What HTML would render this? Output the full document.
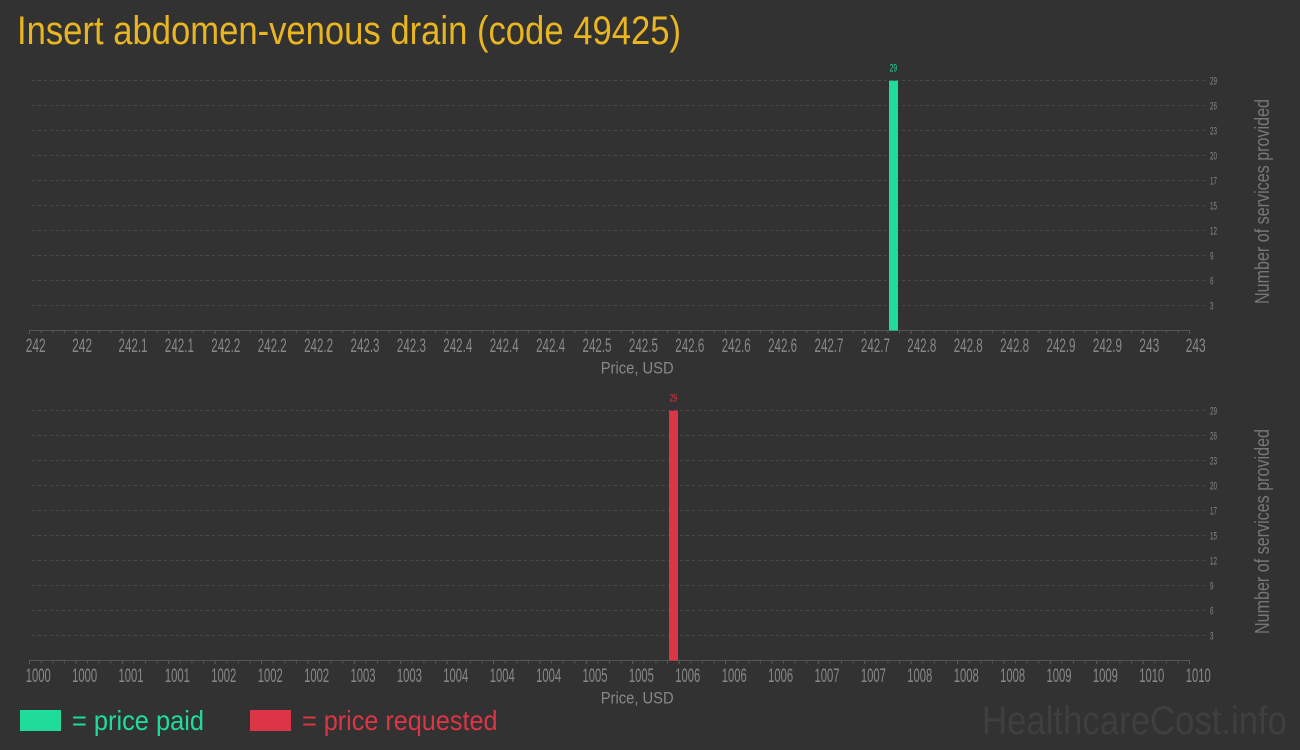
<!DOCTYPE html>
<html><head><meta charset="utf-8"><style>
html,body{margin:0;padding:0;background:#323232;}
svg{display:block;}
text{font-family:"Liberation Sans Narrow","Liberation Sans",sans-serif;}
</style></head><body>
<svg width="1300" height="750" viewBox="0 0 1300 750" xmlns="http://www.w3.org/2000/svg">
<rect width="1300" height="750" fill="#323232"/>
<text x="17" y="44" font-size="40" fill="#e9b520" textLength="664" lengthAdjust="spacingAndGlyphs">Insert abdomen-venous drain (code 49425)</text>

<g id="top">
<g stroke="#4a4a4a" stroke-width="1" stroke-dasharray="3,3">
<line x1="32" y1="80.5" x2="1206" y2="80.5"/>
<line x1="32" y1="105.5" x2="1206" y2="105.5"/>
<line x1="32" y1="130.5" x2="1206" y2="130.5"/>
<line x1="32" y1="155.5" x2="1206" y2="155.5"/>
<line x1="32" y1="180.5" x2="1206" y2="180.5"/>
<line x1="32" y1="205.5" x2="1206" y2="205.5"/>
<line x1="32" y1="230.5" x2="1206" y2="230.5"/>
<line x1="32" y1="255.5" x2="1206" y2="255.5"/>
<line x1="32" y1="280.5" x2="1206" y2="280.5"/>
<line x1="32" y1="305.5" x2="1206" y2="305.5"/>
</g>
<line x1="29" y1="330.5" x2="1190" y2="330.5" stroke="#555" stroke-width="1"/>
<line x1="29" y1="332" x2="1191" y2="332" stroke="#555" stroke-width="3" stroke-dasharray="1 10.6"/>
<line x1="29" y1="332" x2="1191" y2="332" stroke="#5a5a5a" stroke-width="4" stroke-dasharray="1 45.4"/>
<g font-size="11" fill="#888">
<text x="1210" y="84.5" textLength="7" lengthAdjust="spacingAndGlyphs">29</text>
<text x="1210" y="109.5" textLength="7" lengthAdjust="spacingAndGlyphs">26</text>
<text x="1210" y="134.5" textLength="7" lengthAdjust="spacingAndGlyphs">23</text>
<text x="1210" y="159.5" textLength="7" lengthAdjust="spacingAndGlyphs">20</text>
<text x="1210" y="184.5" textLength="7" lengthAdjust="spacingAndGlyphs">17</text>
<text x="1210" y="209.5" textLength="7" lengthAdjust="spacingAndGlyphs">15</text>
<text x="1210" y="234.5" textLength="7" lengthAdjust="spacingAndGlyphs">12</text>
<text x="1210" y="259.5" textLength="3.5" lengthAdjust="spacingAndGlyphs">9</text>
<text x="1210" y="284.5" textLength="3.5" lengthAdjust="spacingAndGlyphs">6</text>
<text x="1210" y="309.5" textLength="3.5" lengthAdjust="spacingAndGlyphs">3</text>
</g>
<text transform="translate(1269,304) rotate(-90)" font-size="20" fill="#777" textLength="205" lengthAdjust="spacingAndGlyphs">Number of services provided</text>
<g font-size="19.5" fill="#888" lengthAdjust="spacingAndGlyphs">
<text x="25.7" y="352" textLength="20" lengthAdjust="spacingAndGlyphs">242</text>
<text x="72.1" y="352" textLength="20" lengthAdjust="spacingAndGlyphs">242</text>
<text x="118.5" y="352" textLength="29" lengthAdjust="spacingAndGlyphs">242.1</text>
<text x="164.9" y="352" textLength="29" lengthAdjust="spacingAndGlyphs">242.1</text>
<text x="211.3" y="352" textLength="29" lengthAdjust="spacingAndGlyphs">242.2</text>
<text x="257.7" y="352" textLength="29" lengthAdjust="spacingAndGlyphs">242.2</text>
<text x="304.1" y="352" textLength="29" lengthAdjust="spacingAndGlyphs">242.2</text>
<text x="350.5" y="352" textLength="29" lengthAdjust="spacingAndGlyphs">242.3</text>
<text x="396.9" y="352" textLength="29" lengthAdjust="spacingAndGlyphs">242.3</text>
<text x="443.3" y="352" textLength="29" lengthAdjust="spacingAndGlyphs">242.4</text>
<text x="489.7" y="352" textLength="29" lengthAdjust="spacingAndGlyphs">242.4</text>
<text x="536.1" y="352" textLength="29" lengthAdjust="spacingAndGlyphs">242.4</text>
<text x="582.5" y="352" textLength="29" lengthAdjust="spacingAndGlyphs">242.5</text>
<text x="628.9" y="352" textLength="29" lengthAdjust="spacingAndGlyphs">242.5</text>
<text x="675.3" y="352" textLength="29" lengthAdjust="spacingAndGlyphs">242.6</text>
<text x="721.7" y="352" textLength="29" lengthAdjust="spacingAndGlyphs">242.6</text>
<text x="768.1" y="352" textLength="29" lengthAdjust="spacingAndGlyphs">242.6</text>
<text x="814.5" y="352" textLength="29" lengthAdjust="spacingAndGlyphs">242.7</text>
<text x="860.9" y="352" textLength="29" lengthAdjust="spacingAndGlyphs">242.7</text>
<text x="907.3" y="352" textLength="29" lengthAdjust="spacingAndGlyphs">242.8</text>
<text x="953.7" y="352" textLength="29" lengthAdjust="spacingAndGlyphs">242.8</text>
<text x="1000.1" y="352" textLength="29" lengthAdjust="spacingAndGlyphs">242.8</text>
<text x="1046.5" y="352" textLength="29" lengthAdjust="spacingAndGlyphs">242.9</text>
<text x="1092.9" y="352" textLength="29" lengthAdjust="spacingAndGlyphs">242.9</text>
<text x="1139.3" y="352" textLength="20" lengthAdjust="spacingAndGlyphs">243</text>
<text x="1185.7" y="352" textLength="20" lengthAdjust="spacingAndGlyphs">243</text>
</g>
<text x="600.7" y="373.5" font-size="17" fill="#888" textLength="73" lengthAdjust="spacingAndGlyphs">Price, USD</text>
<rect x="889" y="80.7" width="9" height="249.8" fill="#20dc9b"/>
<text x="889.7" y="71.7" font-size="11" fill="#20dc9b" textLength="7.3" lengthAdjust="spacingAndGlyphs">29</text>
</g>

<g id="bottom">
<g stroke="#4a4a4a" stroke-width="1" stroke-dasharray="3,3">
<line x1="32" y1="410.5" x2="1206" y2="410.5"/>
<line x1="32" y1="435.5" x2="1206" y2="435.5"/>
<line x1="32" y1="460.5" x2="1206" y2="460.5"/>
<line x1="32" y1="485.5" x2="1206" y2="485.5"/>
<line x1="32" y1="510.5" x2="1206" y2="510.5"/>
<line x1="32" y1="535.5" x2="1206" y2="535.5"/>
<line x1="32" y1="560.5" x2="1206" y2="560.5"/>
<line x1="32" y1="585.5" x2="1206" y2="585.5"/>
<line x1="32" y1="610.5" x2="1206" y2="610.5"/>
<line x1="32" y1="635.5" x2="1206" y2="635.5"/>
</g>
<line x1="29" y1="660.5" x2="1190" y2="660.5" stroke="#555" stroke-width="1"/>
<line x1="29" y1="662" x2="1191" y2="662" stroke="#555" stroke-width="3" stroke-dasharray="1 10.6"/>
<line x1="29" y1="662" x2="1191" y2="662" stroke="#5a5a5a" stroke-width="4" stroke-dasharray="1 45.4"/>
<g font-size="11" fill="#888">
<text x="1210" y="414.5" textLength="7" lengthAdjust="spacingAndGlyphs">29</text>
<text x="1210" y="439.5" textLength="7" lengthAdjust="spacingAndGlyphs">26</text>
<text x="1210" y="464.5" textLength="7" lengthAdjust="spacingAndGlyphs">23</text>
<text x="1210" y="489.5" textLength="7" lengthAdjust="spacingAndGlyphs">20</text>
<text x="1210" y="514.5" textLength="7" lengthAdjust="spacingAndGlyphs">17</text>
<text x="1210" y="539.5" textLength="7" lengthAdjust="spacingAndGlyphs">15</text>
<text x="1210" y="564.5" textLength="7" lengthAdjust="spacingAndGlyphs">12</text>
<text x="1210" y="589.5" textLength="3.5" lengthAdjust="spacingAndGlyphs">9</text>
<text x="1210" y="614.5" textLength="3.5" lengthAdjust="spacingAndGlyphs">6</text>
<text x="1210" y="639.5" textLength="3.5" lengthAdjust="spacingAndGlyphs">3</text>
</g>
<text transform="translate(1269,634) rotate(-90)" font-size="20" fill="#777" textLength="205" lengthAdjust="spacingAndGlyphs">Number of services provided</text>
<g font-size="19.5" fill="#888">
<text x="25.7" y="682" textLength="25" lengthAdjust="spacingAndGlyphs">1000</text>
<text x="72.1" y="682" textLength="25" lengthAdjust="spacingAndGlyphs">1000</text>
<text x="118.5" y="682" textLength="25" lengthAdjust="spacingAndGlyphs">1001</text>
<text x="164.9" y="682" textLength="25" lengthAdjust="spacingAndGlyphs">1001</text>
<text x="211.3" y="682" textLength="25" lengthAdjust="spacingAndGlyphs">1002</text>
<text x="257.7" y="682" textLength="25" lengthAdjust="spacingAndGlyphs">1002</text>
<text x="304.1" y="682" textLength="25" lengthAdjust="spacingAndGlyphs">1002</text>
<text x="350.5" y="682" textLength="25" lengthAdjust="spacingAndGlyphs">1003</text>
<text x="396.9" y="682" textLength="25" lengthAdjust="spacingAndGlyphs">1003</text>
<text x="443.3" y="682" textLength="25" lengthAdjust="spacingAndGlyphs">1004</text>
<text x="489.7" y="682" textLength="25" lengthAdjust="spacingAndGlyphs">1004</text>
<text x="536.1" y="682" textLength="25" lengthAdjust="spacingAndGlyphs">1004</text>
<text x="582.5" y="682" textLength="25" lengthAdjust="spacingAndGlyphs">1005</text>
<text x="628.9" y="682" textLength="25" lengthAdjust="spacingAndGlyphs">1005</text>
<text x="675.3" y="682" textLength="25" lengthAdjust="spacingAndGlyphs">1006</text>
<text x="721.7" y="682" textLength="25" lengthAdjust="spacingAndGlyphs">1006</text>
<text x="768.1" y="682" textLength="25" lengthAdjust="spacingAndGlyphs">1006</text>
<text x="814.5" y="682" textLength="25" lengthAdjust="spacingAndGlyphs">1007</text>
<text x="860.9" y="682" textLength="25" lengthAdjust="spacingAndGlyphs">1007</text>
<text x="907.3" y="682" textLength="25" lengthAdjust="spacingAndGlyphs">1008</text>
<text x="953.7" y="682" textLength="25" lengthAdjust="spacingAndGlyphs">1008</text>
<text x="1000.1" y="682" textLength="25" lengthAdjust="spacingAndGlyphs">1008</text>
<text x="1046.5" y="682" textLength="25" lengthAdjust="spacingAndGlyphs">1009</text>
<text x="1092.9" y="682" textLength="25" lengthAdjust="spacingAndGlyphs">1009</text>
<text x="1139.3" y="682" textLength="25" lengthAdjust="spacingAndGlyphs">1010</text>
<text x="1185.7" y="682" textLength="25" lengthAdjust="spacingAndGlyphs">1010</text>
</g>
<text x="600.7" y="703.5" font-size="17" fill="#888" textLength="73" lengthAdjust="spacingAndGlyphs">Price, USD</text>
<rect x="669" y="410.7" width="9" height="249.8" fill="#dc3545"/>
<text x="669.7" y="401.7" font-size="11" fill="#dc3545" textLength="7.3" lengthAdjust="spacingAndGlyphs">29</text>
</g>

<rect x="20" y="710" width="41" height="21" fill="#20dc9b"/>
<text x="72" y="730" font-size="28" fill="#20dc9b" textLength="132" lengthAdjust="spacingAndGlyphs">= price paid</text>
<rect x="250" y="710" width="41" height="21" fill="#dc3545"/>
<text x="302" y="730" font-size="28" fill="#dc3545" textLength="195.5" lengthAdjust="spacingAndGlyphs">= price requested</text>
<text x="982" y="734" font-size="40" fill="#3f3f3f" textLength="305" lengthAdjust="spacingAndGlyphs">HealthcareCost.info</text>
</svg>
</body></html>
